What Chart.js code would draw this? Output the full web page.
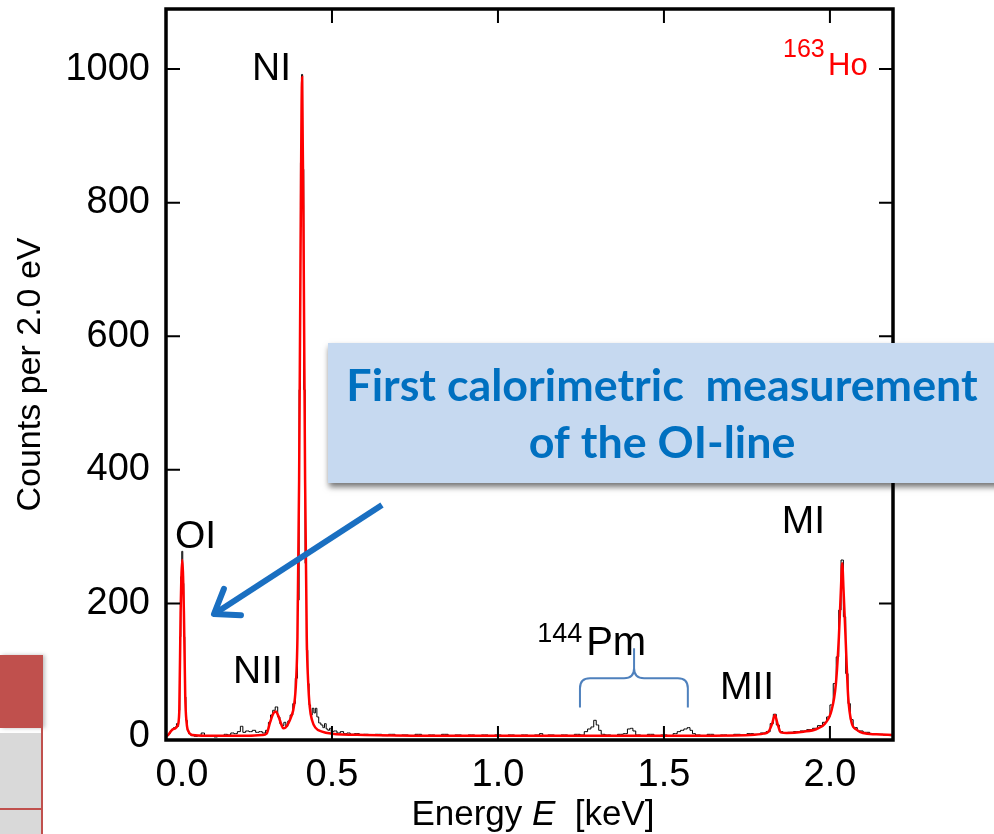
<!DOCTYPE html>
<html>
<head>
<meta charset="utf-8">
<title>163Ho calorimetric spectrum</title>
<script src="https://cdn.jsdelivr.net/npm/chart.js@4.4.1/dist/chart.umd.min.js"></script>
<style>
  html, body { margin: 0; padding: 0; background: #fff; }
  #wrap { width: 994px; height: 834px; }
</style>
</head>
<body>
<div id="wrap"><canvas id="spectrum" width="994" height="834"></canvas></div>
<script>
// Measured spectrum (black histogram), energy in keV / counts per 2 eV
const dataEnergy = [
  0.000, 0.005, 0.010, 0.015, 0.020, 0.025, 0.030, 0.033, 0.036, 0.040,
  0.043, 0.046, 0.049, 0.052, 0.055, 0.058, 0.062, 0.066, 0.070, 0.080,
  0.090, 0.100, 0.112, 0.120, 0.130, 0.140, 0.150, 0.160, 0.170, 0.180,
  0.190, 0.200, 0.210, 0.220, 0.228, 0.235, 0.245, 0.255, 0.265, 0.275,
  0.285, 0.295, 0.305, 0.312, 0.318, 0.325, 0.333, 0.340, 0.346, 0.352,
  0.358, 0.364, 0.370, 0.378, 0.386, 0.393, 0.399, 0.403, 0.407, 0.410,
  0.413, 0.417, 0.421, 0.425, 0.429, 0.433, 0.438, 0.443, 0.448, 0.452,
  0.457, 0.463, 0.470, 0.475, 0.480, 0.485, 0.490, 0.495, 0.500, 0.510,
  0.520, 0.530, 0.540, 0.550, 0.560, 0.575, 0.590, 0.600, 0.620, 0.640,
  0.660, 0.680, 0.700, 0.720, 0.740, 0.760, 0.780, 0.800, 0.820, 0.840,
  0.860, 0.880, 0.900, 0.920, 0.940, 0.960, 0.980, 1.000, 1.020, 1.040,
  1.060, 1.080, 1.100, 1.120, 1.130, 1.140, 1.160, 1.180, 1.200, 1.220,
  1.240, 1.255, 1.265, 1.275, 1.285, 1.292, 1.300, 1.307, 1.315, 1.330,
  1.350, 1.370, 1.385, 1.395, 1.403, 1.410, 1.420, 1.440, 1.460, 1.480,
  1.500, 1.520, 1.535, 1.545, 1.555, 1.565, 1.575, 1.582, 1.590, 1.600,
  1.620, 1.640, 1.660, 1.680, 1.700, 1.720, 1.740, 1.760, 1.780, 1.800,
  1.815, 1.825, 1.834, 1.843, 1.852, 1.865, 1.880, 1.900, 1.920, 1.940,
  1.955, 1.970, 1.985, 1.995, 2.005, 2.015, 2.023, 2.030, 2.037, 2.044,
  2.051, 2.058, 2.065, 2.075, 2.090, 2.110, 2.130, 2.150, 2.170, 2.190
];
const dataCounts = [
  0, 2, 5, 9, 12, 14, 15, 20, 16, 40,
  150, 240, 278, 230, 150, 60, 25, 10, 5, 2,
  1, 2, 6, 1, 2, 1, 0, 2, 1, 4,
  3, 6, 5, 8, 16, 7, 9, 8, 10, 7,
  8, 6, 10, 22, 33, 40, 45, 30, 20, 17,
  22, 16, 24, 33, 50, 88, 205, 520, 860, 992,
  850, 520, 260, 130, 80, 48, 33, 43, 36, 43,
  30, 21, 18, 14, 20, 12, 10, 13, 8, 9,
  6, 8, 5, 6, 4, 5, 3, 4, 3, 4,
  2, 4, 2, 3, 2, 4, 2, 3, 2, 4,
  1, 3, 2, 3, 1, 3, 2, 3, 1, 3,
  2, 3, 1, 3, 5, 2, 3, 2, 3, 2,
  4, 3, 8, 12, 15, 25, 18, 10, 4, 3,
  2, 4, 5, 12, 13, 9, 3, 2, 4, 2,
  3, 2, 5, 8, 10, 12, 14, 10, 5, 3,
  2, 4, 2, 3, 2, 4, 3, 5, 4, 6,
  8, 20, 34, 18, 8, 6, 7, 8, 9, 11,
  13, 17, 22, 30, 48, 80, 120, 190, 265, 180,
  95, 50, 26, 14, 9, 7, 5, 4, 3, 2
];

// Fitted line shape (red)
const fitEnergy = [
  0.000, 0.008, 0.017, 0.028, 0.035, 0.040, 0.044, 0.049, 0.054, 0.058,
  0.062, 0.068, 0.080, 0.120, 0.250, 0.290, 0.303, 0.313, 0.323, 0.331,
  0.338, 0.348, 0.353, 0.360, 0.368, 0.377, 0.386, 0.392, 0.396, 0.401,
  0.405, 0.410, 0.415, 0.419, 0.424, 0.428, 0.433, 0.440, 0.450, 0.470,
  0.500, 0.600, 0.800, 1.600, 1.760, 1.800, 1.815, 1.826, 1.834, 1.842,
  1.852, 1.870, 1.920, 1.960, 1.985, 2.005, 2.018, 2.027, 2.033, 2.037,
  2.041, 2.047, 2.055, 2.065, 2.080, 2.100, 2.140, 2.190
];
const fitCounts = [
  1, 4, 10, 13, 17, 38, 185, 265, 185, 60,
  22, 8, 3, 2, 2, 3, 5, 21, 35, 38,
  32, 18, 13, 14, 20, 30, 48, 85, 150, 385,
  700, 988, 700, 385, 150, 85, 45, 25, 14, 8,
  5, 3, 2, 2, 3, 5, 8, 20, 33, 20,
  7, 6, 8, 12, 20, 40, 80, 150, 220, 260,
  220, 150, 60, 22, 11, 6, 4, 3
];

// Axis ticks
const energyTicks = [0.0, 0.5, 1.0, 1.5, 2.0];
const countTicks = [0, 200, 400, 600, 800, 1000];

// Line labels next to the peaks (left edge / baseline, in keV and counts)
const peakNames = ['OI', 'NI', 'NII', 'MII', 'MI'];
const peakNameE = [0.027, 0.259, 0.202, 1.669, 1.855];
const peakNameCounts = [283, 983, 81, 57, 305];

const FONT = '"Liberation Sans", Arial, sans-serif';

const frame = {
  id: 'frame',
  afterDatasetsDraw(chart) {
    const { ctx, chartArea: a, scales: { x, y } } = chart;
    const len = 14;
    ctx.save();
    ctx.strokeStyle = '#000';
    ctx.lineWidth = 2;
    ctx.beginPath();
    energyTicks.forEach(v => {
      const px = x.getPixelForValue(v);
      if (px <= a.left + 3) return;
      ctx.moveTo(px, a.bottom); ctx.lineTo(px, a.bottom - len);
      ctx.moveTo(px, a.top); ctx.lineTo(px, a.top + len);
    });
    countTicks.forEach(v => {
      const py = y.getPixelForValue(v);
      if (py >= a.bottom - 5) return;
      ctx.moveTo(a.left, py); ctx.lineTo(a.left + len, py);
      ctx.moveTo(a.right, py); ctx.lineTo(a.right - len, py);
    });
    ctx.stroke();
    ctx.lineWidth = 3.5;
    ctx.strokeRect(a.left, a.top, a.right - a.left, a.bottom - a.top);

    // energy tick labels; the 0.0 label is nudged off the frame
    ctx.fillStyle = '#000';
    ctx.font = '38px ' + FONT;
    ctx.textAlign = 'center';
    ctx.textBaseline = 'alphabetic';
    energyTicks.forEach(v => {
      let px = x.getPixelForValue(v);
      if (v === 0) px += 16;
      ctx.fillText(v.toFixed(1), px, a.bottom + 46);
    });

    // axis title with italic E
    const parts = [['Energy ', ''], ['E', 'italic '], ['  [keV]', '']];
    ctx.textAlign = 'left';
    let w = 0;
    parts.forEach(p => { ctx.font = p[1] + '35px ' + FONT; w += ctx.measureText(p[0]).width; });
    let cx = 533 - w / 2;
    parts.forEach(p => {
      ctx.font = p[1] + '35px ' + FONT;
      ctx.fillText(p[0], cx, a.bottom + 85);
      cx += ctx.measureText(p[0]).width;
    });
    ctx.restore();
  }
};

const notes = {
  id: 'notes',
  afterDraw(chart) {
    const { ctx, scales: { x, y } } = chart;
    ctx.save();

    // peak names
    ctx.fillStyle = '#000';
    ctx.textAlign = 'left';
    ctx.textBaseline = 'alphabetic';
    ctx.font = '39px ' + FONT;
    peakNames.forEach((n, i) => {
      ctx.fillText(n, x.getPixelForValue(peakNameE[i]), y.getPixelForValue(peakNameCounts[i]));
    });

    // 144Pm with its brace
    ctx.font = '27px ' + FONT;
    const px0 = x.getPixelForValue(1.118);
    ctx.fillText('144', px0, y.getPixelForValue(142));
    const supW = ctx.measureText('144').width;
    ctx.font = '40px ' + FONT;
    ctx.fillText('Pm', px0 + supW + 4, y.getPixelForValue(123));

    const bx1 = x.getPixelForValue(1.247), bx2 = x.getPixelForValue(1.572), bxm = x.getPixelForValue(1.41);
    const yEnd = y.getPixelForValue(44), yBar = y.getPixelForValue(88), yTip = y.getPixelForValue(133);
    const r = 10;
    ctx.strokeStyle = '#4f81bd';
    ctx.lineWidth = 2;
    ctx.beginPath();
    ctx.moveTo(bx1, yEnd);
    ctx.lineTo(bx1, yBar + r);
    ctx.quadraticCurveTo(bx1, yBar, bx1 + r, yBar);
    ctx.lineTo(bxm - r, yBar);
    ctx.quadraticCurveTo(bxm, yBar, bxm, yBar - r);
    ctx.lineTo(bxm, yTip);
    ctx.moveTo(bxm, yBar - r);
    ctx.quadraticCurveTo(bxm, yBar, bxm + r, yBar);
    ctx.lineTo(bx2 - r, yBar);
    ctx.quadraticCurveTo(bx2, yBar, bx2, yBar + r);
    ctx.lineTo(bx2, yEnd);
    ctx.stroke();

    // 163Ho tag
    ctx.fillStyle = '#ff0000';
    ctx.font = '25px ' + FONT;
    ctx.fillText('163', 783, 57);
    ctx.font = '31px ' + FONT;
    ctx.fillText('Ho', 828, 75);

    // arrow towards the OI line
    const tail = [382, 505], tip = [214, 614];
    const ang = Math.atan2(tail[1] - tip[1], tail[0] - tip[0]);
    ctx.strokeStyle = '#1a6fc1';
    ctx.lineWidth = 6;
    ctx.lineCap = 'butt';
    ctx.beginPath();
    ctx.moveTo(tail[0], tail[1]);
    ctx.lineTo(tip[0] + 2 * Math.cos(ang), tip[1] + 2 * Math.sin(ang));
    ctx.stroke();
    ctx.lineCap = 'round';
    ctx.lineJoin = 'round';
    ctx.beginPath();
    ctx.moveTo(tip[0] + 27 * Math.cos(ang - 0.62), tip[1] + 27 * Math.sin(ang - 0.62));
    ctx.lineTo(tip[0], tip[1]);
    ctx.lineTo(tip[0] + 27 * Math.cos(ang + 0.62), tip[1] + 27 * Math.sin(ang + 0.62));
    ctx.stroke();

    // callout box
    ctx.save();
    ctx.shadowColor = 'rgba(0,0,0,0.55)';
    ctx.shadowBlur = 6;
    ctx.shadowOffsetX = 1;
    ctx.shadowOffsetY = 4;
    ctx.fillStyle = '#c6d9f0';
    ctx.fillRect(328, 343, 680, 140);
    ctx.restore();
    const line1 = 'First calorimetric  measurement';
    const line2 = 'of the OI-line';
    ctx.font = 'bold 100px Lato, "Open Sans", sans-serif';
    const fs = 100 * 632 / ctx.measureText(line1).width;
    ctx.font = 'bold ' + fs.toFixed(1) + 'px Lato, "Open Sans", sans-serif';
    ctx.fillStyle = '#0070c0';
    ctx.textAlign = 'center';
    ctx.fillText(line1, 662, 401);
    ctx.fillText(line2, 662, 458);

    // table edge at the lower left
    ctx.save();
    ctx.shadowColor = 'rgba(0,0,0,0.25)';
    ctx.shadowBlur = 4;
    ctx.shadowOffsetX = 2;
    ctx.fillStyle = '#c0504d';
    ctx.fillRect(0, 655, 43, 73);
    ctx.restore();
    ctx.fillStyle = '#d9d9d9';
    ctx.fillRect(0, 733, 41, 101);
    ctx.strokeStyle = '#c0504d';
    ctx.lineWidth = 2;
    ctx.beginPath();
    ctx.moveTo(42, 728); ctx.lineTo(42, 834);
    ctx.moveTo(0, 809); ctx.lineTo(42, 809);
    ctx.stroke();

    ctx.restore();
  }
};

const ctx = document.getElementById('spectrum').getContext('2d');
new Chart(ctx, {
  type: 'line',
  data: {
    datasets: [
      {
        label: 'Fit',
        data: fitEnergy.map((e, i) => ({ x: e, y: fitCounts[i] })),
        borderColor: '#ff0000',
        borderWidth: 2.5,
        pointRadius: 0,
        cubicInterpolationMode: 'monotone',
        fill: false
      },
      {
        label: 'Data',
        data: dataEnergy.map((e, i) => ({ x: e, y: dataCounts[i] })),
        borderColor: '#000000',
        borderWidth: 1,
        pointRadius: 0,
        stepped: 'middle',
        fill: false
      }
    ]
  },
  options: {
    responsive: false,
    animation: false,
    devicePixelRatio: 1,
    layout: { padding: { left: 0, right: 101, top: 9, bottom: 0 } },
    plugins: {
      legend: { display: false },
      tooltip: { enabled: false }
    },
    scales: {
      x: {
        type: 'linear',
        min: 0,
        max: 2.19,
        grid: { display: false, drawTicks: false },
        border: { display: false },
        ticks: { display: false },
        afterBuildTicks: s => { s.ticks = energyTicks.map(v => ({ value: v })); },
        afterFit: s => { s.height = 94; s.paddingLeft = 0; s.paddingRight = 0; }
      },
      y: {
        type: 'linear',
        min: -4.5,
        max: 1090,
        grid: { display: false, drawTicks: false },
        border: { display: false },
        ticks: {
          color: '#000',
          padding: 16,
          font: { family: FONT, size: 38 },
          callback: v => String(v)
        },
        afterBuildTicks: s => { s.ticks = countTicks.map(v => ({ value: v })); },
        afterFit: s => { s.width = 166; s.paddingTop = 0; s.paddingBottom = 0; },
        title: {
          display: true,
          text: 'Counts per 2.0 eV',
          color: '#000',
          font: { family: FONT, size: 34 },
          padding: { top: 10, bottom: 0 }
        }
      }
    }
  },
  plugins: [frame, notes]
});
</script>
</body>
</html>
